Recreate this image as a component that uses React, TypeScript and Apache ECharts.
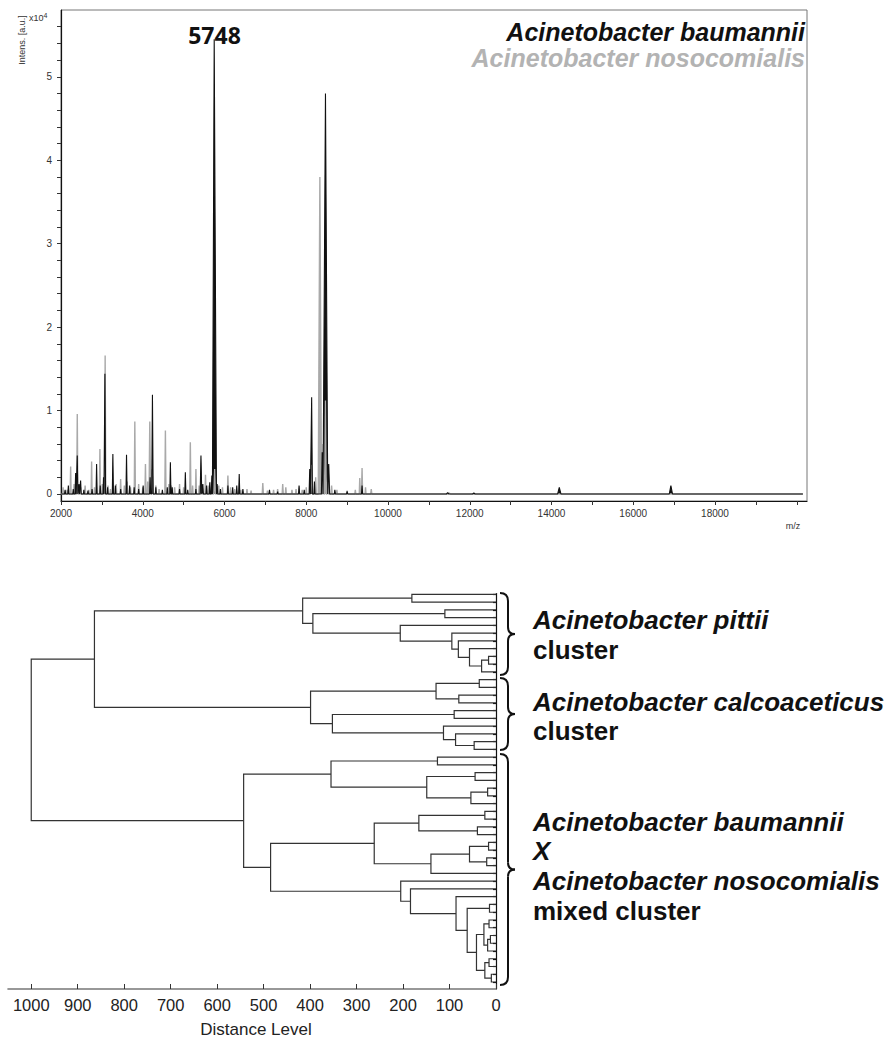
import React, { useEffect, useRef } from "react";
import * as echarts from "echarts";

// ---------- Spectrum data: [m/z, intensity (x10^4 a.u.), half width (Da)] ----------
const baumanniiPeaks: number[][] = [
  [2100, 0.05, 14], [2180, 0.1, 14], [2300, 0.06, 12], [2358, 0.25, 14], [2398, 0.46, 14],
  [2440, 0.12, 12], [2480, 0.16, 14], [2560, 0.05, 12], [2660, 0.04, 12], [2760, 0.06, 12],
  [2871, 0.36, 14], [2960, 0.1, 12], [3040, 0.2, 12], [3074, 1.44, 16], [3140, 0.08, 12],
  [3269, 0.48, 14], [3330, 0.1, 12], [3460, 0.06, 12], [3603, 0.47, 14], [3680, 0.1, 12],
  [3790, 0.08, 12], [3900, 0.06, 12], [4010, 0.1, 12], [4180, 0.2, 14], [4237, 1.19, 18],
  [4320, 0.08, 12], [4480, 0.05, 12], [4600, 0.08, 12], [4676, 0.38, 14], [4720, 0.08, 12],
  [4900, 0.06, 12], [5042, 0.26, 14], [5100, 0.05, 12], [5300, 0.06, 12], [5424, 0.46, 20],
  [5470, 0.12, 14], [5560, 0.1, 14], [5640, 0.14, 14], [5690, 0.22, 14], [5748, 5.45, 55],
  [5820, 0.12, 14], [5900, 0.06, 12], [6083, 0.1, 12], [6200, 0.08, 12], [6300, 0.1, 12],
  [6360, 0.24, 14], [6450, 0.06, 12], [7100, 0.05, 14], [7300, 0.03, 12], [7824, 0.1, 14],
  [7950, 0.05, 12], [8085, 0.3, 16], [8132, 1.16, 18], [8200, 0.15, 14], [8390, 0.5, 20],
  [8470, 4.8, 55], [8550, 0.36, 22], [8700, 0.05, 14], [9000, 0.03, 14], [9365, 0.1, 14],
  [11460, 0.015, 30], [12100, 0.012, 30], [14190, 0.08, 40], [16920, 0.1, 40],
];

const nosocomialisPeaks: number[][] = [
  [2050, 0.08, 12], [2150, 0.05, 12], [2236, 0.33, 12], [2320, 0.12, 12], [2398, 0.96, 14],
  [2480, 0.08, 12], [2590, 0.1, 14], [2680, 0.05, 12], [2749, 0.39, 12], [2820, 0.08, 12],
  [2952, 0.54, 12], [3010, 0.12, 12], [3080, 1.66, 16], [3150, 0.1, 12], [3210, 0.06, 12],
  [3350, 0.12, 12], [3459, 0.18, 12], [3550, 0.1, 12], [3620, 0.15, 12], [3700, 0.08, 12],
  [3806, 0.87, 14], [3900, 0.12, 12], [4000, 0.08, 12], [4066, 0.36, 12], [4120, 0.15, 12],
  [4172, 0.87, 18], [4230, 0.3, 24], [4320, 0.1, 12], [4400, 0.06, 12], [4554, 0.76, 14],
  [4640, 0.12, 12], [4700, 0.1, 12], [4780, 0.08, 12], [4900, 0.12, 12], [5000, 0.08, 12],
  [5164, 0.62, 14], [5220, 0.1, 12], [5301, 0.3, 12], [5380, 0.1, 12], [5535, 0.23, 14],
  [5600, 0.1, 12], [5680, 0.15, 12], [5760, 0.3, 20], [5860, 0.1, 12], [5950, 0.08, 12],
  [6083, 0.22, 14], [6150, 0.08, 12], [6250, 0.06, 12], [6400, 0.05, 12], [6550, 0.06, 12],
  [6650, 0.04, 12], [6937, 0.13, 14], [7050, 0.04, 12], [7200, 0.05, 12], [7300, 0.06, 12],
  [7424, 0.12, 14], [7500, 0.08, 12], [7650, 0.05, 12], [7750, 0.06, 12], [7900, 0.05, 12],
  [8000, 0.08, 12], [8130, 0.35, 24], [8230, 0.2, 16], [8333, 3.8, 40], [8410, 0.6, 18],
  [8470, 1.12, 18], [8530, 0.3, 18], [8620, 0.1, 14], [8750, 0.05, 12], [9000, 0.04, 12],
  [9200, 0.05, 12], [9309, 0.19, 12], [9365, 0.31, 14], [9450, 0.08, 12], [9590, 0.06, 14],
  [11500, 0.01, 30],
];

const traceRange = [2000, 20150];

const mzLabels = [2000, 4000, 6000, 8000, 10000, 12000, 14000, 16000, 18000];
const mzTicks = [2000, 3000, 4000, 5000, 6000, 7000, 8000, 9000, 10000, 11000, 12000, 13000, 14000, 15000, 16000, 17000, 18000, 19000, 20000];
const intensityLabels = [0, 1, 2, 3, 4, 5];
const intensityTicks = [0, 0.2, 0.4, 0.6, 0.8, 1, 1.2, 1.4, 1.6, 1.8, 2, 2.2, 2.4, 2.6, 2.8, 3, 3.2, 3.4, 3.6, 3.8, 4, 4.2, 4.4, 4.6, 4.8, 5, 5.2, 5.4, 5.6];

// ---------- Dendrogram data ----------
const distanceLabels = [1000, 900, 800, 700, 600, 500, 400, 300, 200, 100, 0];
const leafCount = 51;
// [child A, child B, distance]; ids 0..50 are leaves (top to bottom), 51+ are merges in order
const linkage: number[][] = [
  [0, 1, 181], [2, 3, 110], [8, 9, 16], [53, 10, 31], [7, 54, 57], [6, 55, 81], [5, 56, 95],
  [4, 57, 206], [52, 58, 394], [51, 59, 416],
  [11, 12, 36], [13, 14, 80], [61, 62, 129], [15, 16, 90], [19, 20, 47], [18, 65, 87],
  [17, 66, 113], [64, 67, 352], [63, 68, 399], [60, 69, 864],
  [21, 22, 126], [23, 24, 45], [25, 26, 18], [73, 27, 54], [72, 74, 149], [71, 75, 355],
  [28, 29, 24], [30, 31, 40], [77, 78, 166], [32, 33, 16], [34, 35, 20], [80, 81, 57],
  [82, 36, 140], [79, 83, 262],
  [40, 41, 14], [42, 43, 15], [44, 45, 12], [87, 46, 18], [86, 88, 26], [47, 48, 15],
  [49, 50, 10], [90, 91, 24], [89, 92, 42], [85, 93, 62], [39, 94, 86], [38, 95, 184],
  [37, 96, 205], [84, 97, 485], [76, 98, 543], [70, 99, 1000],
];

function buildTrace(peaks: number[][]) {
  const sorted = [...peaks].sort((a, b) => a[0] - b[0]);
  const pts: number[][] = [[traceRange[0], 0]];
  sorted.forEach(([mz, h, w]) => {
    pts.push([mz - w, 0], [mz, h], [mz + w, 0]);
  });
  pts.push([traceRange[1], 0]);
  return pts;
}

function buildDendrogram() {
  const nx: number[] = [];
  const ny: number[] = [];
  for (let i = 0; i < leafCount; i++) {
    nx.push(0);
    ny.push(i);
  }
  const segs: any[] = [];
  linkage.forEach(([a, b, d]) => {
    segs.push({
      coords: [
        [nx[a], ny[a]],
        [d, ny[a]],
        [d, ny[b]],
        [nx[b], ny[b]],
      ],
    });
    nx.push(d);
    ny.push((ny[a] + ny[b]) / 2);
  });
  return segs;
}

function brace(top: number, bottom: number, xs: number, xm: number, xt: number) {
  const mid = (top + bottom) / 2;
  const st = { stroke: "#111", lineWidth: 2, fill: null as any };
  return {
    type: "group",
    silent: true,
    children: [
      { type: "bezierCurve", shape: { x1: xs, y1: top, x2: xm, y2: top + 8, cpx1: xm, cpy1: top }, style: st },
      { type: "line", shape: { x1: xm, y1: top + 8, x2: xm, y2: mid - 7 }, style: st },
      { type: "bezierCurve", shape: { x1: xm, y1: mid - 7, x2: xt, y2: mid, cpx1: xm, cpy1: mid }, style: st },
      { type: "bezierCurve", shape: { x1: xt, y1: mid, x2: xm, y2: mid + 7, cpx1: xm, cpy1: mid }, style: st },
      { type: "line", shape: { x1: xm, y1: mid + 7, x2: xm, y2: bottom - 8 }, style: st },
      { type: "bezierCurve", shape: { x1: xm, y1: bottom - 8, x2: xs, y2: bottom, cpx1: xm, cpy1: bottom }, style: st },
    ],
  };
}

const SANS = "'Liberation Sans', Arial, sans-serif";
const plain = (v: number) => String(v);

export default function App() {
  const ref = useRef<HTMLDivElement>(null);
  useEffect(() => {
    document.body.style.margin = "0";
    if (!ref.current) return;
    const chart = echarts.init(ref.current, null, { renderer: "svg" });

    const labelText = (text: string, x: number, y: number, style: any) => ({
      type: "text",
      x,
      y,
      silent: true,
      style: { text, fontFamily: SANS, textVerticalAlign: "middle", ...style },
    });

    const clusterStyle = { fontSize: 26, fontWeight: "bold", fontStyle: "italic", fill: "#111" };
    const plainStyle = { fontSize: 26, fontWeight: "bold", fill: "#111" };

    const option: any = {
      animation: false,
      grid: [
        { left: 61, top: 10, right: 88, bottom: 537, show: true, borderColor: "#777", borderWidth: 1 },
        { left: 8, top: 593.5, right: 399, bottom: 49 },
      ],
      xAxis: [
        {
          type: "value",
          gridIndex: 0,
          min: 2000,
          max: 20250,
          axisLine: { onZero: false, lineStyle: { color: "#111", width: 1.2 } },
          axisTick: { show: true, customValues: mzTicks, length: 4, lineStyle: { color: "#333" } },
          axisLabel: { customValues: mzLabels, formatter: plain, fontSize: 10, color: "#333", fontFamily: SANS, margin: 7 },
          splitLine: { show: false },
        },
        {
          type: "value",
          gridIndex: 1,
          min: 0,
          max: 1050,
          inverse: true,
          axisLine: { onZero: false, lineStyle: { color: "#777", width: 1.6 } },
          axisTick: { show: true, inside: true, customValues: distanceLabels, length: 5, lineStyle: { color: "#333" } },
          axisLabel: { customValues: distanceLabels, formatter: plain, fontSize: 16.5, color: "#222", fontFamily: SANS, margin: 7 },
          splitLine: { show: false },
        },
      ],
      yAxis: [
        {
          type: "value",
          gridIndex: 0,
          min: -0.084,
          max: 5.8,
          axisLine: { show: true, onZero: false, lineStyle: { color: "#111", width: 1.2 } },
          axisTick: { show: true, customValues: intensityTicks, length: 4, lineStyle: { color: "#333" } },
          axisLabel: { customValues: intensityLabels, formatter: plain, fontSize: 10, color: "#333", fontFamily: SANS, margin: 9 },
          splitLine: { show: false },
        },
        {
          type: "value",
          gridIndex: 1,
          min: -0.1,
          max: 50.9,
          inverse: true,
          position: "right",
          axisLine: { show: true, onZero: false, lineStyle: { color: "#111", width: 1.2 } },
          axisTick: {
            show: true,
            inside: true,
            length: 3,
            customValues: Array.from({ length: leafCount }, (_, i) => i),
            lineStyle: { color: "#000", width: 1.2 },
          },
          axisLabel: { show: false },
          splitLine: { show: false },
        },
      ],
      series: [
        {
          name: "Acinetobacter nosocomialis",
          type: "line",
          xAxisIndex: 0,
          yAxisIndex: 0,
          data: buildTrace(nosocomialisPeaks),
          symbol: "none",
          lineStyle: { color: "#a9a9a9", width: 1.4 },
          areaStyle: { color: "#a9a9a9", opacity: 1 },
          silent: true,
        },
        {
          name: "Acinetobacter baumannii",
          type: "line",
          xAxisIndex: 0,
          yAxisIndex: 0,
          data: buildTrace(baumanniiPeaks),
          symbol: "none",
          lineStyle: { color: "#111", width: 1.1 },
          areaStyle: { color: "#111", opacity: 1 },
          silent: true,
        },
        {
          type: "lines",
          coordinateSystem: "cartesian2d",
          xAxisIndex: 1,
          yAxisIndex: 1,
          polyline: true,
          data: buildDendrogram(),
          lineStyle: { color: "#333", width: 1.2, opacity: 1 },
          silent: true,
        },
      ],
      graphic: [
        {
          type: "text",
          x: 22,
          y: 40,
          rotation: Math.PI / 2,
          silent: true,
          style: { text: "Intens. [a.u.]", fontFamily: SANS, fontSize: 9, fill: "#333", textAlign: "center", textVerticalAlign: "middle" },
        },
        {
          type: "text",
          x: 29,
          y: 18,
          silent: true,
          style: {
            text: "{b|x10}{s|4}",
            fontFamily: SANS,
            textVerticalAlign: "middle",
            rich: {
              b: { fontSize: 9, fill: "#333", fontFamily: SANS },
              s: { fontSize: 7, fill: "#333", fontFamily: SANS, padding: [0, 0, 6, 0] },
            },
          },
        },
        labelText("m/z", 793, 526, { fontSize: 9, fill: "#333", textAlign: "center" }),
        labelText("5748", 214.5, 35, { fontSize: 23, fontWeight: "bold", fill: "#111", textAlign: "center", fontFamily: "'Open Sans', sans-serif" }),
        labelText("Acinetobacter baumannii", 805, 32, { fontSize: 25, fontWeight: "bold", fontStyle: "italic", fill: "#111", textAlign: "right" }),
        labelText("Acinetobacter nosocomialis", 805, 58, { fontSize: 25, fontWeight: "bold", fontStyle: "italic", fill: "#b3b3b3", textAlign: "right" }),
        labelText("Distance Level", 256, 1029, { fontSize: 17, fill: "#222", textAlign: "center" }),
        brace(593, 675, 500, 508, 515),
        brace(678, 750, 500, 508, 515),
        brace(754, 985, 500, 508, 515),
        labelText("Acinetobacter pittii", 533, 620, clusterStyle),
        labelText("cluster", 533, 650, plainStyle),
        labelText("Acinetobacter calcoaceticus", 533, 702, clusterStyle),
        labelText("cluster", 533, 731, plainStyle),
        labelText("Acinetobacter baumannii", 533, 822, clusterStyle),
        labelText("X", 533, 851, clusterStyle),
        labelText("Acinetobacter nosocomialis", 533, 881, clusterStyle),
        labelText("mixed cluster", 533, 911, plainStyle),
      ],
    };
    chart.setOption(option);
    return () => chart.dispose();
  }, []);
  return <div ref={ref} style={{ width: 895, height: 1038 }} />;
}
